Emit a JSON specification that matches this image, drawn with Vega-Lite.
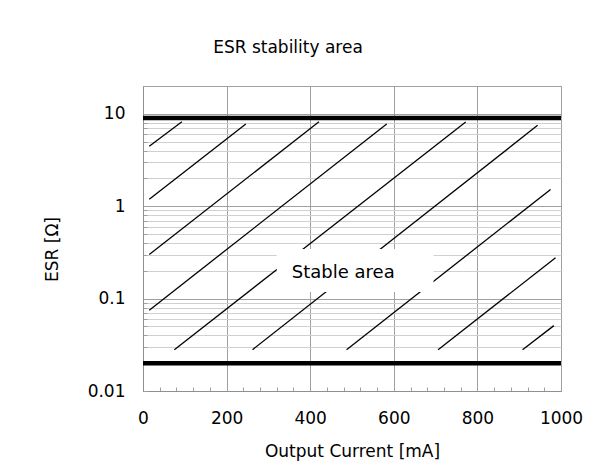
{
  "$schema": "https://vega.github.io/schema/vega-lite/v6.json",
  "autosize": "none",
  "width": 418,
  "height": 305,
  "padding": {"left": 143, "top": 86, "right": 44, "bottom": 85},
  "background": "white",
  "title": {"text": "ESR stability area", "fontSize": 17, "fontWeight": "normal", "color": "#000", "anchor": "middle", "dx": -64, "offset": 29, "font": "DejaVu Sans"},
  "config": {
    "view": {"stroke": "#a0a0a0", "strokeWidth": 1},
    "font": "DejaVu Sans"
  },
  "datasets": {
    "lines": [
      {"line": 1, "current": 15, "esr": 4.45}, {"line": 1, "current": 93, "esr": 8.2},
      {"line": 2, "current": 15, "esr": 1.19}, {"line": 2, "current": 246, "esr": 7.76},
      {"line": 3, "current": 15, "esr": 0.30}, {"line": 3, "current": 421, "esr": 8.2},
      {"line": 4, "current": 15, "esr": 0.075}, {"line": 4, "current": 583, "esr": 7.76},
      {"line": 5, "current": 75, "esr": 0.028}, {"line": 5, "current": 772, "esr": 8.15},
      {"line": 6, "current": 262, "esr": 0.028}, {"line": 6, "current": 944, "esr": 7.5},
      {"line": 7, "current": 487, "esr": 0.028}, {"line": 7, "current": 975, "esr": 1.52},
      {"line": 8, "current": 706, "esr": 0.028}, {"line": 8, "current": 987, "esr": 0.277},
      {"line": 9, "current": 908, "esr": 0.028}, {"line": 9, "current": 983, "esr": 0.051}
    ],
    "limits": [{"limit": "upper", "esr": 9}, {"limit": "lower", "esr": 0.02}],
    "box": [{"current": 320, "current2": 695, "esr": 0.118, "esr2": 0.344}],
    "label": [{"text": "Stable area", "current": 479, "esr": 0.188}]
  },
  "encoding": {
    "x": {
      "field": "current", "type": "quantitative",
      "scale": {"domain": [0, 1000], "nice": false},
      "axis": {
        "title": "Output Current [mA]",
        "titleFontSize": 17, "titleFontWeight": "normal", "titleColor": "#000", "titlePadding": 17,
        "values": [0,40,80,120,160,200,240,280,320,360,400,440,480,520,560,600,640,680,720,760,800,840,880,920,960,1000],
        "labelExpr": "datum.value % 200 === 0 ? '' + datum.value : ''",
        "labelOverlap": false,
        "labelFontSize": 17, "labelColor": "#000", "labelPadding": 23,
        "grid": true,
        "gridColor": "#a0a0a0",
        "gridOpacity": {"condition": {"test": "datum.value % 200 === 0", "value": 1}, "value": 0},
        "ticks": true, "tickSize": -4, "tickColor": "#a0a0a0",
        "domainColor": "#909090", "labelFlush": false
      }
    },
    "y": {
      "field": "esr", "type": "quantitative",
      "scale": {"type": "log", "domain": [0.01, 20], "nice": false},
      "axis": {
        "title": "ESR [Ω]",
        "titleFontSize": 17, "titleFontWeight": "normal", "titleColor": "#000",
        "titleX": -91, "titleY": 163, "titleBaseline": "middle",
        "values": [0.01,0.02,0.03,0.04,0.05,0.06,0.07,0.08,0.09,0.1,0.2,0.3,0.4,0.5,0.6,0.7,0.8,0.9,1,2,3,4,5,6,7,8,9,10],
        "labelExpr": "datum.value == 0.01 ? '0.01' : datum.value == 0.1 ? '0.1' : datum.value == 1 ? '1' : datum.value == 10 ? '10' : ''",
        "labelOverlap": false,
        "labelFontSize": 17, "labelColor": "#000", "labelPadding": 22,
        "grid": true,
        "gridColor": {"condition": {"test": "datum.value == 0.01 || datum.value == 0.1 || datum.value == 1 || datum.value == 10", "value": "#a0a0a0"}, "value": "#d0d0d0"},
        "ticks": true, "tickSize": -4, "tickColor": "#a0a0a0",
        "domainColor": "#909090", "labelFlush": false
      }
    }
  },
  "layer": [
    {
      "data": {"name": "lines"},
      "mark": {"type": "line", "color": "#000", "strokeWidth": 1.3},
      "encoding": {"detail": {"field": "line", "type": "nominal"}}
    },
    {
      "data": {"name": "limits"},
      "mark": {"type": "rule", "color": "#000", "strokeWidth": 4.5},
      "encoding": {"x": null}
    },
    {
      "data": {"name": "box"},
      "mark": {"type": "rect", "color": "white"},
      "encoding": {
        "x2": {"field": "current2"},
        "y2": {"field": "esr2"}
      }
    },
    {
      "data": {"name": "label"},
      "mark": {"type": "text", "fontSize": 18, "color": "#000", "font": "DejaVu Sans"},
      "encoding": {"text": {"field": "text"}}
    }
  ]
}
